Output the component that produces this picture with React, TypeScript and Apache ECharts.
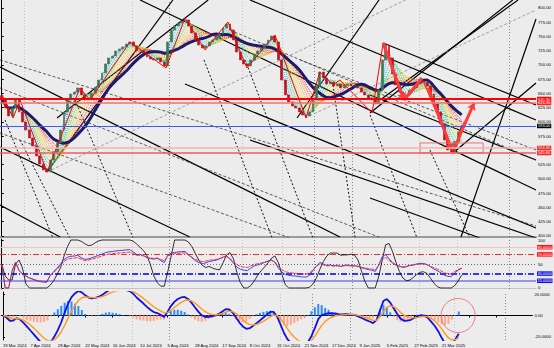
import React, { useEffect, useRef } from 'react';
import * as echarts from 'echarts';

// ---------- data ----------
const N_BARS = 155;
const DATES = ['19 Mar 2024', '7 Apr 2024', '28 Apr 2024', '22 May 2024', '16 Jun 2024', '10 Jul 2024', '5 Aug 2024', '28 Aug 2024', '17 Sep 2024', '8 Oct 2024', '31 Oct 2024', '21 Nov 2024', '17 Dec 2024', '9 Jan 2025', '5 Feb 2025', '27 Feb 2025', '21 Mar 2025'];
const CLOSE = [
  638.6, 624.6, 610.5, 624.6, 638.6, 617.5, 600.0, 586.0, 571.9, 557.9,
  540.4, 526.3, 515.8, 512.3, 533.3, 547.4, 563.2, 586.0, 617.5, 638.6,
  649.1, 652.6, 659.7, 647.4, 638.6, 642.1, 650.9, 661.4, 673.7, 686.0,
  701.8, 712.3, 715.8, 724.6, 728.1, 731.6, 736.8, 740.4, 733.3, 724.6,
  724.6, 721.1, 714.0, 710.5, 708.8, 712.3, 705.3, 698.2, 740.4, 761.4,
  768.4, 773.7, 777.2, 779.0, 768.4, 756.1, 743.9, 735.1, 729.8, 733.3,
  740.4, 743.9, 747.4, 754.4, 764.9, 771.9, 761.4, 743.9, 722.8, 708.8,
  701.8, 698.2, 708.8, 719.3, 724.6, 729.8, 736.8, 743.9, 750.9, 740.4,
  708.8, 673.7, 647.4, 635.1, 628.1, 624.6, 617.5, 612.3, 610.5, 617.5,
  638.6, 663.2, 687.7, 677.2, 666.7, 670.2, 663.2, 666.7, 659.7, 664.9,
  666.7, 663.2, 663.2, 659.7, 652.6, 647.4, 642.1, 638.6, 631.6, 656.1,
  708.8, 735.1, 712.3, 684.2, 664.9, 652.6, 642.1, 647.4, 656.1, 659.7,
  666.7, 670.2, 670.2, 663.2, 649.1, 631.6, 617.5, 596.5, 568.4, 550.9,
  547.4, 566.0, 582.5, 593.0
];
const OPEN_FIRST = 646.0;

const PRICE_TICKS = [400, 425, 450, 475, 500, 525, 575, 600, 625, 650, 675, 700, 725, 750, 775, 800];
const PRICE_MIN = 398.2;
const PRICE_MAX = 814;
const OSC_TICKS = [0, 50, 100];
const OSC_MIN = -2.1;
const OSC_MAX = 102.1;
const MACD_TICKS = [-20, 0, 20];
const MACD_MIN = -22.8;
const MACD_MAX = 21.9;
const MACD_DISPLAY_SCALE = 0.95;

const PRICE_LEVELS = [640.3, 633.3, 593.0, 554.4, 545.6];
const OSC_LEVELS = [85, 70, 50, 30, 15];

const ZZ_IDX = [0.1, 3.3, 5.3, 13.1, 22.6, 25.5, 37.1, 47.5, 53.0, 58.8, 65.4, 70.9, 79.0, 88.0, 92.0, 95.8, 97.8, 107.1, 110.3, 116.6, 121.8, 130.5, 133.1];
const ZZ_PRICE = [647.4, 607.0, 638.6, 512.3, 659.7, 638.6, 740.4, 694.7, 782.5, 726.3, 775.4, 694.7, 752.6, 607.0, 687.7, 664.9, 673.7, 615.8, 738.6, 638.6, 673.7, 545.6, 594.7];

// trend lines [barFrom, priceFrom, barTo, priceTo]
const SOLID_LINES = [
  [-0.5, 696.5, 97.8, 398.2],
  [-0.5, 556.1, 54.4, 398.2],
  [-0.5, 454.4, 16.9, 398.2],
  [53.0, 666.7, 154.5, 414.0],
  [110.3, 738.6, 154.5, 629.8],
  [106.5, 647.4, 154.5, 533.3],
  [71.8, 568.4, 154.5, 396.5],
  [106.5, 466.7, 138.3, 396.5],
  [40.0, 814.0, 154.5, 480.7],
  [71.8, 814.0, 154.5, 603.5],
  [13.1, 512.3, 49.5, 814.0],
  [16.0, 607.0, 59.7, 814.0],
  [132.8, 398.2, 154.5, 780.7],
  [130.5, 545.6, 154.5, 668.4],
  [109.4, 638.6, 149.3, 814.0],
  [85.4, 607.0, 109.1, 814.0],
  [106.5, 615.8, 147.8, 814.0]
];
const STEEP_DOTTED = [
  [0.95, 603.5, 14.8, 396.5],
  [5.3, 568.4, 19.7, 396.5],
  [21.2, 638.6, 38.0, 396.5],
  [58.5, 708.8, 78.2, 396.5],
  [70.4, 708.8, 90.0, 396.5],
  [95.8, 664.9, 102.2, 396.5],
  [106.5, 612.3, 120.1, 396.5],
  [123.8, 550.9, 135.4, 396.5]
];
const MOD_DASHED = [
  [-0.5, 580.7, 154.5, 240.3],
  [-0.5, 659.7, 154.5, 289.5],
  [-0.5, 708.8, 154.5, 417.5],
  [66.0, 761.4, 154.5, 533.3],
  [86.3, 708.8, 154.5, 550.9]
];
const GRAY_DASHED = [
  [13.1, 512.3, 154.5, 924.0],
  [87.7, 607.0, 154.5, 796.5]
];
const ARROW_LINES = [
  [110.3, 738.6, 116.3, 638.6],
  [123.3, 659.7, 130.2, 550.9],
  [133.4, 589.5, 136.6, 633.3]
];
const RED_THICK = [
  [116.3, 638.6, 121.5, 677.2],
  [131.1, 554.4, 134.0, 600.0]
];
const RECT_BOX = [121.0, 563.2, 139.2, 545.6];
const SEP_IDX = [6.4, 27.5, 37.7, 48.4, 69.5, 81.0, 90.3, 101.3, 120.7, 131.7, 146.7];
const SEP_DARK = [48.4, 90.3, 101.3, 146.7];
const CIRCLE_AT = [132.8, 0];

// ---------- styles ----------
const BG = '#ececec';
const FONT = 'Liberation Sans';
const PRICE_LEVEL_STYLE = [
  { color: '#ff0000', width: 2, box: '#ff0000' },
  { color: '#f07070', width: 1.5, box: '#ff2020' },
  { color: '#3a5cf0', width: 1, box: '#000000' },
  { color: '#f5b5b5', width: 1.5, box: '#ff2020' },
  { color: '#e86060', width: 1.5, box: '#ff2020' }
];
const OSC_LEVEL_STYLE = [
  { color: '#f3c4c4', width: 1, type: 'solid', box: '#ff1010' },
  { color: '#e83030', width: 1, type: [6, 2, 1, 2], box: '#ff1010' },
  { color: '#707070', width: 1, type: [1, 2], box: '' },
  { color: '#0000d0', width: 1.5, type: [6, 2, 1, 2], box: '#1010e0' },
  { color: '#7a7ae8', width: 1.5, type: 'solid', box: '#1010e0' }
];
const RIBBON_PERIODS = [2, 3, 4, 5, 6, 7, 8, 9, 10, 11, 12];
const RIBBON_COLORS = ['#3a6cff', '#2fa8ff', '#20c8c8', '#30c870', '#70d030', '#c8d820', '#ffd020', '#ffaa20', '#ff8030', '#ff5030', '#ff2020'];

// ---------- indicators ----------
function sma(src: number[], n: number): number[] {
  const out: number[] = [];
  let sum = 0;
  for (let i = 0; i < src.length; i++) {
    sum += src[i];
    if (i >= n) sum -= src[i - n];
    out.push(sum / Math.min(i + 1, n));
  }
  return out;
}
function ema(src: number[], n: number): number[] {
  const k = 2 / (n + 1);
  const out: number[] = [];
  let prev = src[0];
  for (let i = 0; i < src.length; i++) {
    prev = i === 0 ? src[0] : prev + k * (src[i] - prev);
    out.push(prev);
  }
  return out;
}
function rsi(src: number[], n: number): number[] {
  const out: number[] = [50];
  let g = 0;
  let l = 0;
  for (let i = 1; i < src.length; i++) {
    const d = src[i] - src[i - 1];
    g = (g * (n - 1) + Math.max(d, 0)) / n;
    l = (l * (n - 1) + Math.max(-d, 0)) / n;
    out.push(g + l === 0 ? 50 : (100 * g) / (g + l));
  }
  return out;
}
function stoch(src: number[], n: number, smooth: number): number[] {
  const k = src.map((c, i) => {
    const w = src.slice(Math.max(0, i - n + 1), i + 1);
    const hi = Math.max(...w);
    const lo = Math.min(...w);
    return hi === lo ? 50 : (100 * (c - lo)) / (hi - lo);
  });
  return sma(k, smooth);
}

function seg(list: number[][]) {
  return list.map(([a, b, c, d]) => ({ coords: [[a, b], [c, d]] }));
}

function buildOption() {
  const cats = Array.from({ length: N_BARS }, (_, i) => String(i));
  const candles = CLOSE.map((c, i) => {
    const o = i === 0 ? OPEN_FIRST : CLOSE[i - 1];
    return [o, c, Math.min(o, c), Math.max(o, c)];
  });
  const navy = sma(CLOSE, 14);
  const rsiFast = rsi(CLOSE, 14);
  const rsiSlow = rsi(CLOSE, 20);
  const stK = stoch(CLOSE, 14, 3);
  const emaFast = ema(CLOSE, 6);
  const emaSlow = ema(CLOSE, 13);
  const macd = emaFast.map((v, i) => (v - emaSlow[i]) * MACD_DISPLAY_SCALE);
  const signal = ema(macd, 5);
  const hist = macd.map((v, i) => v - signal[i]);

  const ax = { fontSize: 4.2, color: '#000', fontFamily: FONT };
  const grids = [
    { left: 0, right: 18, top: 0, height: 237 },
    { left: 0, right: 18, top: 239, height: 50 },
    { left: 0, right: 18, top: 292, height: 48 }
  ];
  const catAxis = (g: number, line: any, labels: boolean) => ({
    type: 'category', gridIndex: g, data: cats, boundaryGap: true,
    axisLine: { show: true, lineStyle: line },
    axisTick: labels ? { show: true, interval: 7, length: 2, alignWithLabel: true, lineStyle: { color: '#000' } } : { show: false },
    axisLabel: labels ? {
      show: true, interval: 7, align: 'left', margin: 3, showMinLabel: true, showMaxLabel: false, ...ax,
      formatter: (_v: string, idx: number) => (idx % 8 === 0 ? DATES[idx / 8] ?? '' : '')
    } : { show: false },
    splitLine: { show: false }
  });
  const valAxis = (g: number) => ({ type: 'value', gridIndex: g, min: -0.5, max: N_BARS - 0.5, show: false });
  const yAx = (g: number, min: number, max: number, ticks: number[], fmt: (v: number) => string) => ({
    type: 'value', gridIndex: g, position: 'right', min, max, scale: true,
    axisLine: { show: true, lineStyle: { color: '#000', width: 1 } },
    axisTick: { show: true, length: 2, customValues: ticks, lineStyle: { color: '#000' } },
    axisLabel: { show: true, margin: 2, customValues: ticks, formatter: fmt, ...ax },
    splitLine: { show: false }
  });

  const series: any[] = [];
  const sepSeries = (g: number, ymin: number, ymax: number) => ({
    type: 'lines', coordinateSystem: 'cartesian2d', xAxisIndex: g * 2 + 1, yAxisIndex: g, silent: true, z: 1,
    data: SEP_IDX.map((i) => ({
      coords: [[i, ymin], [i, ymax]],
      lineStyle: { color: SEP_DARK.includes(i) ? '#202020' : '#9a9a9a', width: 1, type: [1, 2] }
    }))
  });
  series.push(sepSeries(0, PRICE_MIN, PRICE_MAX), sepSeries(1, OSC_MIN, OSC_MAX), sepSeries(2, MACD_MIN, MACD_MAX));

  const linesSeries = (data: number[][], style: any, extra: any = {}) => ({
    type: 'lines', coordinateSystem: 'cartesian2d', xAxisIndex: 1, yAxisIndex: 0, silent: true, clip: true, z: 2,
    lineStyle: style, data: seg(data), ...extra
  });
  series.push(linesSeries(SOLID_LINES, { color: '#000', width: 1.2, type: 'solid', opacity: 1 }));
  series.push(linesSeries(STEEP_DOTTED, { color: '#111', width: 1, type: [2, 2], opacity: 1 }));
  series.push(linesSeries(MOD_DASHED, { color: '#333', width: 0.8, type: [3, 2], opacity: 1 }));
  series.push(linesSeries(GRAY_DASHED, { color: '#8a8a8a', width: 0.8, type: [3, 2], opacity: 1 }));

  RIBBON_PERIODS.forEach((p, k) => {
    series.push({
      type: 'line', xAxisIndex: 0, yAxisIndex: 0, data: sma(CLOSE, p), symbol: 'none', silent: true, z: 3,
      lineStyle: { color: RIBBON_COLORS[k], width: 1, type: [1, 1] }
    });
  });

  series.push({
    type: 'line', xAxisIndex: 0, yAxisIndex: 0, data: navy, symbol: 'none', silent: true, z: 4, smooth: 0.3,
    lineStyle: { color: '#1c1c6e', width: 3 },
    markLine: {
      silent: true, symbol: 'none', z: 10,
      data: PRICE_LEVELS.map((v, k) => ({
        yAxis: v,
        lineStyle: { color: PRICE_LEVEL_STYLE[k].color, width: PRICE_LEVEL_STYLE[k].width, type: 'solid' },
        label: {
          show: true, position: 'end', distance: 1, formatter: v.toFixed(2), color: '#fff',
          backgroundColor: PRICE_LEVEL_STYLE[k].box, padding: [0, 1], fontSize: 4, lineHeight: 4.5, fontFamily: FONT
        }
      }))
    }
  });

  series.push({
    type: 'candlestick', xAxisIndex: 0, yAxisIndex: 0, data: candles, barWidth: 2.4, z: 5, silent: true,
    itemStyle: { color: '#3d7a50', color0: '#c41010', borderColor: '#3d7a50', borderColor0: '#c41010', borderWidth: 0.6 }
  });

  series.push({
    type: 'line', xAxisIndex: 1, yAxisIndex: 0, data: ZZ_IDX.map((x, k) => [x, ZZ_PRICE[k]]), symbol: 'none', silent: true, z: 6,
    lineStyle: { color: '#ff0000', width: 1 }
  });
  series.push(linesSeries(RED_THICK, { color: '#ff3a3a', width: 3, type: 'solid', opacity: 1 }, { z: 7 }));
  series.push(linesSeries(ARROW_LINES, { color: '#ff3a3a', width: 3, type: 'solid', opacity: 1 }, { z: 7, symbol: ['none', 'arrow'], symbolSize: 7 }));
  series.push({
    type: 'lines', coordinateSystem: 'cartesian2d', xAxisIndex: 1, yAxisIndex: 0, polyline: true, silent: true, z: 7,
    lineStyle: { color: '#f07070', width: 1, opacity: 1 },
    data: [{
      coords: [[RECT_BOX[0], RECT_BOX[1]], [RECT_BOX[2], RECT_BOX[1]], [RECT_BOX[2], RECT_BOX[3]], [RECT_BOX[0], RECT_BOX[3]], [RECT_BOX[0], RECT_BOX[1]]]
    }]
  });

  // oscillator panel
  series.push({
    type: 'line', xAxisIndex: 2, yAxisIndex: 1, data: stK, symbol: 'none', silent: true, z: 4,
    lineStyle: { color: '#000', width: 0.8 }
  });
  series.push({
    type: 'line', xAxisIndex: 2, yAxisIndex: 1, data: rsiFast, symbol: 'none', silent: true, z: 5,
    lineStyle: { color: '#2233ff', width: 0.9 }
  });
  series.push({
    type: 'line', xAxisIndex: 2, yAxisIndex: 1, data: rsiSlow, symbol: 'none', silent: true, z: 6,
    lineStyle: { color: '#ff2020', width: 0.9, type: [4, 1] },
    markLine: {
      silent: true, symbol: 'none', z: 2,
      data: OSC_LEVELS.map((v, k) => ({
        yAxis: v,
        lineStyle: { color: OSC_LEVEL_STYLE[k].color, width: OSC_LEVEL_STYLE[k].width, type: OSC_LEVEL_STYLE[k].type },
        label: OSC_LEVEL_STYLE[k].box ? {
          show: true, position: 'end', distance: 1, formatter: v.toFixed(4), color: '#fff',
          backgroundColor: OSC_LEVEL_STYLE[k].box, padding: [0, 0.5], fontSize: 4, lineHeight: 4.5, fontFamily: FONT
        } : { show: false }
      }))
    }
  });

  // MACD panel
  series.push({
    type: 'bar', xAxisIndex: 4, yAxisIndex: 2, barWidth: 2, silent: true, z: 2,
    data: hist.map((v) => ({ value: v, itemStyle: { color: v >= 0 ? '#2b8cff' : '#ffa58a' } }))
  });
  series.push({
    type: 'line', xAxisIndex: 4, yAxisIndex: 2, data: macd, symbol: 'none', silent: true, z: 3,
    lineStyle: { color: '#1010e8', width: 1.8 }
  });
  series.push({
    type: 'line', xAxisIndex: 4, yAxisIndex: 2, data: signal, symbol: 'none', silent: true, z: 4,
    lineStyle: { color: '#ff9a1a', width: 1.4 }
  });
  series.push({
    type: 'scatter', xAxisIndex: 5, yAxisIndex: 2, data: [CIRCLE_AT], symbol: 'circle', symbolSize: 34, silent: true, z: 8,
    itemStyle: { color: 'rgba(0,0,0,0)', borderColor: '#f06060', borderWidth: 1 }
  });

  return {
    animation: false,
    backgroundColor: BG,
    textStyle: { fontFamily: FONT },
    grid: grids,
    xAxis: [
      catAxis(0, { color: '#9a9a9a', width: 2 }, false), valAxis(0),
      catAxis(1, { color: '#c4c4c4', width: 1 }, false), valAxis(1),
      catAxis(2, { color: '#000', width: 1 }, true), valAxis(2)
    ],
    yAxis: [
      yAx(0, PRICE_MIN, PRICE_MAX, PRICE_TICKS, (v) => v.toFixed(2)),
      yAx(1, OSC_MIN, OSC_MAX, OSC_TICKS, (v) => String(v)),
      yAx(2, MACD_MIN, MACD_MAX, MACD_TICKS, (v) => (v === 0 ? '0.00' : v.toFixed(4)))
    ],
    series
  };
}

export default function App() {
  const ref = useRef<HTMLDivElement>(null);
  useEffect(() => {
    if (!ref.current) return;
    const chart = echarts.init(ref.current, null, { renderer: 'svg' });
    chart.setOption(buildOption() as any);
    return () => chart.dispose();
  }, []);
  return <div ref={ref} style={{ position: 'absolute', left: 0, top: 0, width: 554, height: 348, background: BG }} />;
}
